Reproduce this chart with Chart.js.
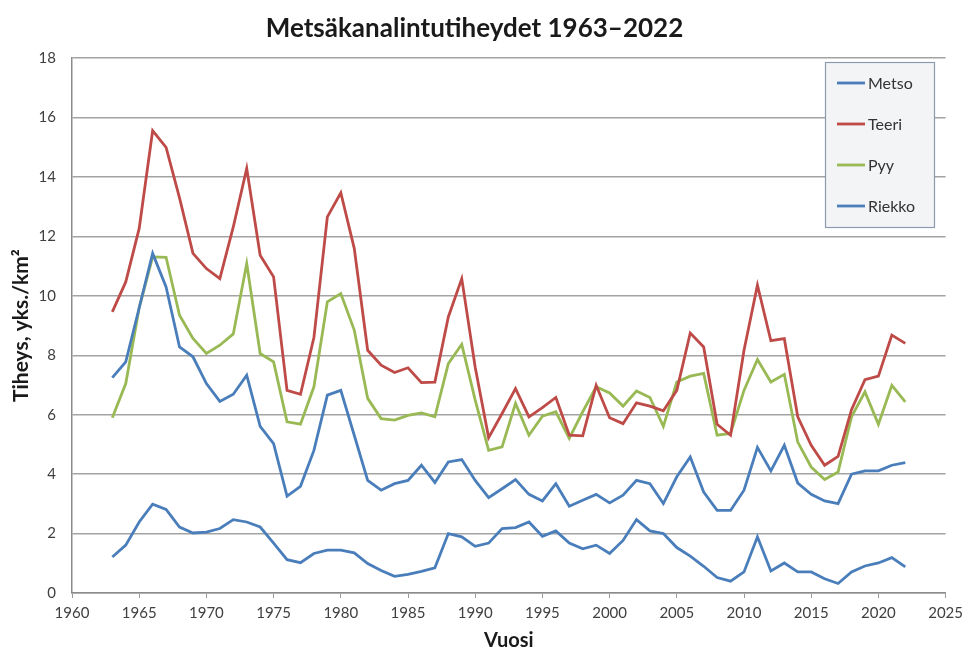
<!DOCTYPE html>
<html lang="fi">
<head>
<meta charset="utf-8">
<title>Metsäkanalintutiheydet 1963–2022</title>
<script src="https://cdn.jsdelivr.net/npm/chart.js@4.4.1/dist/chart.umd.min.js"></script>
<style>
  html, body { margin: 0; padding: 0; background: #fff; }
  #wrap { width: 969px; height: 652px; }
</style>
</head>
<body>
<div id="wrap"><canvas id="chart" width="969" height="652"></canvas></div>
<script>
const years = [];
for (let y = 1963; y <= 2022; y++) years.push(y);

const metso = [
  7.25, 7.78, 9.6, 11.43, 10.3, 8.28, 7.95, 7.05, 6.45, 6.69,
  7.33, 5.61, 5.03, 3.26, 3.59, 4.8, 6.66, 6.82, 5.31, 3.79,
  3.46, 3.68, 3.79, 4.3, 3.72, 4.41, 4.49, 3.79, 3.21, 3.51,
  3.82, 3.32, 3.1, 3.68, 2.92, 3.12, 3.32, 3.03, 3.29, 3.79,
  3.68, 3.01, 3.91, 4.58, 3.4, 2.78, 2.78, 3.46, 4.9, 4.11,
  4.97, 3.7, 3.32, 3.1, 3.01, 4.0, 4.11, 4.11, 4.3, 4.39
];
const teeri = [
  9.46, 10.47, 12.27, 15.56, 15.0, 13.3, 11.43, 10.92, 10.58, 12.32,
  14.29, 11.37, 10.64, 6.82, 6.69, 8.6, 12.66, 13.47, 11.6, 8.17,
  7.67, 7.42, 7.58, 7.08, 7.1, 9.29, 10.58, 7.6, 5.23, 6.04,
  6.88, 5.93, 6.24, 6.58, 5.31, 5.29, 6.99, 5.9, 5.7, 6.4,
  6.29, 6.13, 6.82, 8.75, 8.28, 5.68, 5.31, 8.17, 10.36, 8.49,
  8.56, 5.93, 4.97, 4.3, 4.6, 6.17, 7.18, 7.3, 8.68, 8.4
];
const pyy = [
  5.9, 7.05, 9.6, 11.31, 11.3, 9.35, 8.57, 8.06, 8.34, 8.72,
  11.09, 8.06, 7.78, 5.76, 5.68, 6.94, 9.8, 10.08, 8.85, 6.55,
  5.87, 5.82, 5.98, 6.06, 5.93, 7.72, 8.37, 6.49, 4.8, 4.92,
  6.38, 5.31, 5.95, 6.1, 5.2, 6.1, 6.94, 6.73, 6.29, 6.8,
  6.58, 5.61, 7.1, 7.3, 7.39, 5.31, 5.37, 6.82, 7.86, 7.1,
  7.36, 5.08, 4.24, 3.82, 4.07, 5.93, 6.77, 5.68, 6.99, 6.43
];
const riekko = [
  1.21, 1.61, 2.39, 2.99, 2.81, 2.22, 2.02, 2.05, 2.17, 2.47,
  2.39, 2.22, 1.68, 1.12, 1.02, 1.33, 1.44, 1.44, 1.35, 0.99,
  0.76, 0.56, 0.63, 0.73, 0.85, 2.0, 1.89, 1.57, 1.68, 2.17,
  2.2, 2.39, 1.91, 2.09, 1.68, 1.49, 1.61, 1.33, 1.77, 2.47,
  2.09, 2.0, 1.53, 1.24, 0.9, 0.52, 0.4, 0.71, 1.89, 0.74,
  1.01, 0.71, 0.71, 0.48, 0.32, 0.71, 0.91, 1.01, 1.19, 0.88
];

const seriesNames = ['Metso', 'Teeri', 'Pyy', 'Riekko'];
const seriesColors = ['#4a7ebb', '#be4b48', '#98b954', '#4a7ebb'];
const seriesValues = [metso, teeri, pyy, riekko];

const FONT = 'Lato, "Open Sans", "DejaVu Sans", sans-serif';

// legend drawn as a framed box inside the plot, like the spreadsheet original
const boxLegend = {
  id: 'boxLegend',
  afterDatasetsDraw(chart) {
    const ctx = chart.ctx;
    const x = 825, y = 62, w = 109, h = 165;
    ctx.save();
    ctx.fillStyle = '#f3f4f6';
    ctx.strokeStyle = '#8a9ab0';
    ctx.lineWidth = 1.2;
    ctx.fillRect(x, y, w, h);
    ctx.strokeRect(x + 0.5, y + 0.5, w, h);
    ctx.font = '16px ' + FONT;
    ctx.textBaseline = 'middle';
    chart.data.datasets.forEach((ds, i) => {
      const ly = y + 21 + i * 41;
      ctx.strokeStyle = ds.borderColor;
      ctx.lineWidth = 2.8;
      ctx.beginPath();
      ctx.moveTo(x + 12, ly);
      ctx.lineTo(x + 40, ly);
      ctx.stroke();
      ctx.fillStyle = '#333';
      ctx.fillText(ds.label, x + 43, ly + 1);
    });
    ctx.restore();
  }
};

const datasets = seriesNames.map((name, i) => ({
  label: name,
  data: years.map((yr, j) => ({ x: yr, y: seriesValues[i][j] })),
  borderColor: seriesColors[i],
  backgroundColor: seriesColors[i],
  borderWidth: 2.8,
  pointRadius: 0,
  tension: 0,
}));

new Chart(document.getElementById('chart').getContext('2d'), {
  type: 'line',
  data: { datasets },
  plugins: [boxLegend],
  options: {
    responsive: false,
    animation: false,
    layout: { padding: { left: 0, right: 20, top: 0, bottom: 0 } },
    plugins: {
      legend: { display: false },
      tooltip: { enabled: false },
      title: {
        display: true,
        text: 'Metsäkanalintutiheydet 1963–2022',
        color: '#1a1a1a',
        font: { family: FONT, size: 26, weight: 'bold', lineHeight: 1.2 },
        padding: { top: 13, bottom: 14 },
      },
    },
    scales: {
      x: {
        type: 'linear', min: 1960, max: 2025,
        afterFit(scale) { scale.height = 59; },
        ticks: {
          stepSize: 5, color: '#404040',
          font: { family: FONT, size: 15 }, padding: 6,
          callback: v => String(v),
        },
        grid: { drawOnChartArea: false, drawTicks: true, tickLength: 5, color: '#9a9a9a' },
        border: { color: '#8c8c8c', width: 1.5 },
        title: {
          display: true, text: 'Vuosi', color: '#1a1a1a',
          font: { family: FONT, size: 20, weight: 'bold', lineHeight: 1 },
          padding: { top: 0, bottom: 1 },
        },
      },
      y: {
        min: 0, max: 18,
        afterFit(scale) { scale.width = 72; },
        ticks: {
          stepSize: 2, color: '#404040',
          font: { family: FONT, size: 15 }, padding: 16,
        },
        grid: { drawTicks: false, color: '#a3a3a3', lineWidth: 1.5 },
        border: { color: '#8c8c8c', width: 1.5 },
        title: {
          display: true, text: 'Tiheys, yks./km²', color: '#1a1a1a',
          font: { family: FONT, size: 21, weight: 'bold', lineHeight: 1.2 },
          padding: { top: 9, bottom: 0 },
        },
      },
    },
  },
});
</script>
</body>
</html>
